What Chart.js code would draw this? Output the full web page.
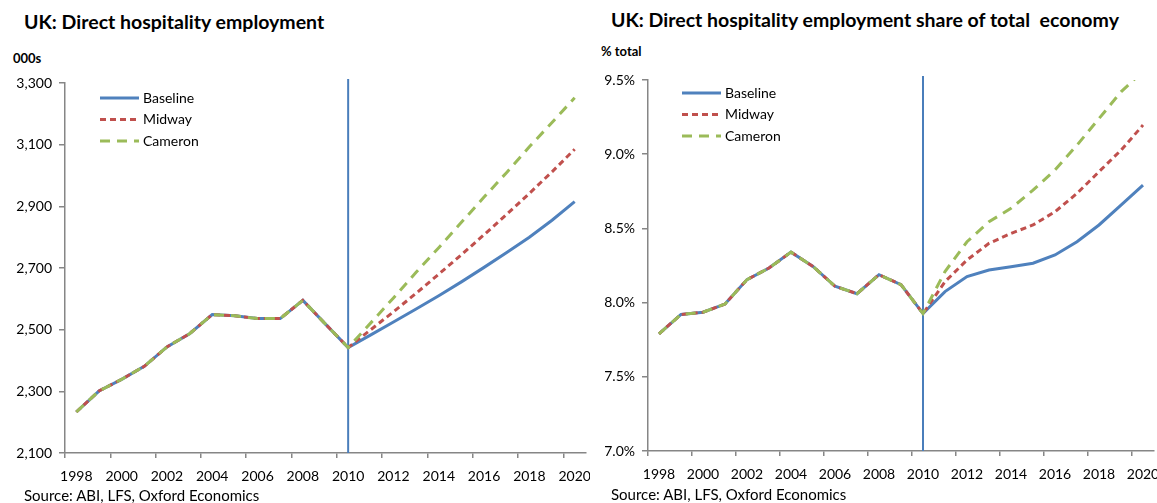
<!DOCTYPE html>
<html>
<head>
<meta charset="utf-8">
<script src="https://cdn.jsdelivr.net/npm/chart.js@4.4.1/dist/chart.umd.min.js"></script>
<style>
  body { margin: 0; background: #fff; }
  #page { position: relative; width: 1157px; height: 503px; overflow: hidden; font-family: Lato, "Open Sans", sans-serif; color: #000; }
  .title { position: absolute; font-size: 19.5px; font-weight: bold; line-height: 22px; white-space: pre; }
  .unit { position: absolute; font-size: 13px; font-weight: bold; line-height: 16px; }
  .source { position: absolute; font-size: 15px; line-height: 18px; white-space: pre; }
  .panel { position: absolute; top: 0; height: 503px; }
</style>
</head>
<body>
<div id="page">
  <div class="title" style="left:24px; top:11px;">UK: Direct hospitality employment</div>
  <div class="unit" style="left:13px; top:50px;">000s</div>
  <div class="panel" style="left:0; width:590px;"><canvas id="empChart"></canvas></div>
  <div class="source" style="left:24px; top:486px;">Source: ABI, LFS, Oxford Economics</div>

  <div class="title" style="left:611px; top:9px;">UK: Direct hospitality employment share of total  economy</div>
  <div class="unit" style="left:601px; top:43px;">% total</div>
  <div class="panel" style="left:590px; width:567px;"><canvas id="shareChart"></canvas></div>
  <div class="source" style="left:611px; top:485px;">Source: ABI, LFS, Oxford Economics</div>
</div>

<script>
// years on the category axis
const years = ['1998', '1999', '2000', '2001', '2002', '2003', '2004', '2005', '2006', '2007', '2008', '2009', '2010',
  '2011', '2012', '2013', '2014', '2015', '2016', '2017', '2018', '2019', '2020'];

// employment, 000s
const empBaseline = [2233, 2301, 2339, 2381, 2444, 2487, 2549, 2545, 2536, 2536, 2595, 2518, 2442,
  2483, 2525, 2567, 2610, 2655, 2702, 2750, 2800, 2855, 2915];
const empMidway = [2233, 2301, 2339, 2381, 2444, 2487, 2549, 2545, 2536, 2536, 2595, 2518, 2442,
  2500, 2558, 2618, 2680, 2743, 2808, 2874, 2942, 3012, 3085];
const empCameron = [2233, 2301, 2339, 2381, 2444, 2487, 2549, 2545, 2536, 2536, 2595, 2518, 2442,
  2522, 2603, 2686, 2766, 2848, 2930, 3010, 3093, 3172, 3252];

// share of total economy, %
const shareBaseline = [7.79, 7.92, 7.935, 7.99, 8.155, 8.233, 8.34, 8.244, 8.11, 8.06, 8.188, 8.121, 7.926,
  8.074, 8.175, 8.22, 8.242, 8.265, 8.321, 8.41, 8.523, 8.657, 8.792];
const shareMidway = [7.79, 7.92, 7.935, 7.99, 8.155, 8.233, 8.34, 8.244, 8.11, 8.06, 8.188, 8.121, 7.926,
  8.141, 8.287, 8.399, 8.466, 8.523, 8.612, 8.736, 8.882, 9.027, 9.196];
const shareCameron = [7.79, 7.92, 7.935, 7.99, 8.155, 8.233, 8.34, 8.244, 8.11, 8.06, 8.188, 8.121, 7.926,
  8.209, 8.41, 8.545, 8.635, 8.758, 8.893, 9.061, 9.24, 9.42, 9.56];

const empTicks = { min: 2100, max: 3300, step: 200 };
const shareTicks = { min: 7.0, max: 9.5, step: 0.5 };
const forecastStart = '2010';

const axisGrey = '#868686';
const FONT = 'Lato, "Open Sans", sans-serif';

Chart.defaults.font.family = FONT;
Chart.defaults.font.size = 14;
Chart.defaults.color = '#000';

// blue vertical marker at the start of the forecast
const markerLine = {
  id: 'markerLine',
  beforeDatasetsDraw(chart, args, opts) {
    const { ctx, chartArea, scales } = chart;
    const x = scales.x.getPixelForValue(years.indexOf(opts.at));
    ctx.save();
    ctx.strokeStyle = '#4a7ebb';
    ctx.lineWidth = 2;
    ctx.beginPath();
    ctx.moveTo(x, chartArea.top - 4);
    ctx.lineTo(x, chartArea.bottom);
    ctx.stroke();
    ctx.restore();
  }
};

// legend drawn inside the plot, top-left, like the Excel original
const insideLegend = {
  id: 'insideLegend',
  afterDraw(chart, args, opts) {
    const { ctx, chartArea } = chart;
    const x0 = chartArea.left + opts.left;
    let y = chartArea.top + opts.top;
    ctx.save();
    ctx.font = '14px ' + FONT;
    ctx.textBaseline = 'middle';
    ctx.fillStyle = '#000';
    chart.data.datasets.forEach(ds => {
      ctx.strokeStyle = ds.borderColor;
      ctx.lineWidth = 3;
      ctx.setLineDash(ds.borderDash || []);
      ctx.beginPath();
      ctx.moveTo(x0, y);
      ctx.lineTo(x0 + 39, y);
      ctx.stroke();
      ctx.fillText(ds.label, x0 + 43, y);
      y += 21.5;
    });
    ctx.restore();
  }
};

function makeDatasets(base, mid, cam) {
  return [
    { label: 'Baseline', data: base, borderColor: '#4f81bd', borderWidth: 3, order: 3 },
    { label: 'Midway', data: mid, borderColor: '#c0504d', borderWidth: 3, borderDash: [6, 4], order: 2 },
    { label: 'Cameron', data: cam, borderColor: '#9bbb59', borderWidth: 3, borderDash: [10, 7], order: 1 }
  ];
}

function makeChart(id, datasets, range, fmt, pad, yWidth, legendPos) {
  const ctx = document.getElementById(id).getContext('2d');
  return new Chart(ctx, {
    type: 'line',
    data: { labels: years, datasets: datasets },
    options: {
      responsive: true,
      maintainAspectRatio: false,
      animation: false,
      layout: { padding: pad },
      elements: { point: { radius: 0 }, line: { tension: 0, fill: false } },
      plugins: {
        legend: { display: false },
        tooltip: { enabled: false },
        markerLine: { at: forecastStart },
        insideLegend: legendPos
      },
      scales: {
        x: {
          offset: true,
          afterFit: s => { s.height = 30; s.paddingLeft = 0; s.paddingRight = 0; },
          grid: {
            offset: true,
            drawOnChartArea: false,
            tickLength: 5,
            lineWidth: 1.5,
            color: c => (c.index % 2 === 0 ? axisGrey : 'rgba(0,0,0,0)')
          },
          border: { color: axisGrey, width: 1.5 },
          ticks: {
            autoSkip: false,
            maxRotation: 0,
            padding: 10,
            callback: function (v, i) { return i % 2 === 0 ? this.getLabelForValue(v) : ''; }
          }
        },
        y: {
          min: range.min,
          max: range.max,
          afterFit: s => { s.width = yWidth; },
          grid: { drawOnChartArea: false, tickLength: 6, lineWidth: 1.5, color: axisGrey },
          border: { color: axisGrey, width: 1.5 },
          ticks: { stepSize: range.step, padding: 7, callback: fmt }
        }
      }
    },
    plugins: [markerLine, insideLegend]
  });
}

function draw() {
  makeChart('empChart', makeDatasets(empBaseline, empMidway, empCameron), empTicks,
    v => v.toLocaleString('en-GB'),
    { left: 0, top: 83, right: 4, bottom: 20 }, 65, { left: 35, top: 15 });

  makeChart('shareChart', makeDatasets(shareBaseline, shareMidway, shareCameron), shareTicks,
    v => v.toFixed(1) + '%',
    { left: 0, top: 80, right: 3, bottom: 22 }, 58, { left: 34, top: 13 });
}

document.fonts.load('14px Lato').then(draw, draw);
</script>
</body>
</html>
